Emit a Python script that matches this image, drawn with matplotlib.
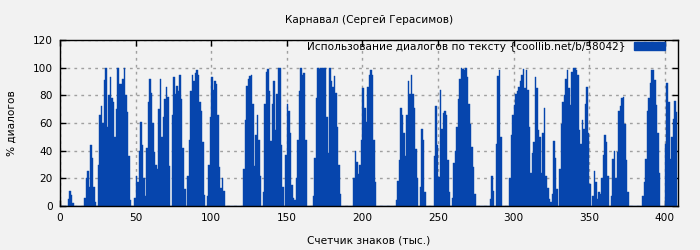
import numpy as np
import matplotlib
matplotlib.use('Agg')
import matplotlib.pyplot as plt
from matplotlib.patches import Patch

# % of dialogue per thousand characters
dialog_pct = [
    0, 0, 0, 0, 0, 5, 11, 8, 2, 0, 0, 0, 0, 0, 0, 0,
    6, 20, 25, 14, 44, 35, 14, 3, 0,
    30, 66, 72, 60, 91, 100, 57, 80, 93, 78, 75, 50, 70, 100, 88, 88, 92, 100, 80, 68, 36, 4,
    0, 0,
    6, 22, 17, 40, 61, 44, 20, 7, 42, 75, 92, 82, 60, 39, 30, 27, 70, 92, 50, 64,
    77, 86, 79, 29, 0,
    66, 93, 81, 87, 83, 95, 77, 42, 12, 0,
    22, 48, 83, 95, 90, 96, 98, 95, 75, 69, 46, 8, 0,
    7, 30, 64, 93, 84, 90, 88, 66, 28, 13, 20, 11,
    0, 0, 0, 0, 0, 0, 0, 0, 0, 0, 0, 0,
    27, 62, 87, 92, 94, 95, 74, 29, 51, 66, 48, 22, 0,
    10, 74, 97, 99, 83, 47, 74, 90, 55, 81, 100, 100, 44, 14, 0,
    37, 74, 69, 53, 15, 6, 4, 20, 48, 83, 100, 95, 96, 48,
    0, 0, 0, 0,
    7, 35, 78, 100, 99, 100, 100, 100, 100, 64, 38, 100, 90, 86, 94, 82, 57, 30, 9,
    0, 0, 0, 0, 0, 0, 0, 0,
    20, 40, 32, 23, 30, 48, 85, 71, 61, 86, 95, 98, 95, 48, 17,
    0, 0, 0, 0, 0, 0, 0, 0, 0, 0, 0, 0, 0,
    4, 18, 33, 71, 66, 53, 36, 66, 90, 81, 95, 81, 71, 41, 20, 0,
    14, 56, 48, 10, 0, 0, 0, 0, 0,
    36, 72, 44, 21, 84, 56, 67, 69, 66, 33, 10, 0,
    6, 31, 40, 57, 77, 92, 100, 99, 98, 100, 93, 74, 59, 43, 28, 9,
    0, 0, 0, 0, 0, 0, 0, 0, 0,
    5, 22, 11, 0, 45, 94, 98, 50, 0, 0, 0, 0, 0,
    20, 51, 66, 73, 81, 83, 86, 90, 95, 99, 85, 98, 84, 57, 24, 38, 46, 93, 85, 55, 50, 24,
    53, 71, 22, 13, 5, 3, 9, 47, 35, 12,
    0,
    27, 59, 75, 80, 92, 98, 85, 73, 97, 100, 100,
    98, 95, 55, 45, 62, 56, 74, 86, 53, 16, 0,
    7, 25, 17, 5, 10, 9, 20, 37, 51, 46, 22, 0,
    7, 34, 40, 20, 39, 69, 72, 78, 79, 59, 33, 10,
    0, 0, 0, 0, 0, 0, 0, 0, 0,
    7, 17, 34, 69, 78, 89, 98, 98, 91, 73, 53, 24, 0, 0, 0,
    45, 89, 75, 34, 50, 63, 76, 68,
]
x_ticks = [0, 50, 100, 150, 200, 250, 300, 350, 400]
y_ticks = [0, 20, 40, 60, 80, 100, 120]

title = 'Карнавал (Сергей Герасимов)'
legend_label = 'Использование диалогов по тексту {coollib.net/b/58042}'
bar_color = '#0645ad'
bg = '#f2f2f2'
fs = 7.6

plt.rcParams['font.family'] = ['DejaVu Sans']
plt.rcParams['font.size'] = fs

fig = plt.figure(figsize=(7, 2.5), dpi=100, facecolor=bg)
ax = fig.add_axes([0.0857, 0.176, 0.8824, 0.664], facecolor=bg)

x = np.arange(len(dialog_pct))
ax.bar(x, dialog_pct, width=1.0, align='edge', color=bar_color,
       edgecolor=bar_color, linewidth=0.3, zorder=2)

ax.set_xlim(0, 408.4)
ax.set_ylim(0, 120)
ax.set_xticks(x_ticks)
ax.set_yticks(y_ticks)
ax.grid(True, color='#a0a0a0', linestyle=(0, (2, 3)), linewidth=1, zorder=1)
ax.tick_params(direction='in', top=True, right=True, length=4, width=1, pad=5,
               labelsize=fs)
for s in ax.spines.values():
    s.set_linewidth(1)
    s.set_color('black')
    s.set_zorder(3)

ax.set_title(title, fontsize=fs, pad=12)
ax.set_xlabel('Счетчик знаков (тыс.)', fontsize=fs, labelpad=9)
ax.set_ylabel('% диалогов', fontsize=fs, labelpad=12)

handle = Patch(facecolor=bar_color, edgecolor=bar_color)
ax.legend([handle], [legend_label], loc='upper right', frameon=False,
          bbox_to_anchor=(0.979, 0.99), borderaxespad=0, borderpad=0,
          markerfirst=False, fontsize=fs, handlelength=2.9, handleheight=0.8,
          handletextpad=0.85)

fig.savefig('out.png', dpi=100, facecolor=bg)
